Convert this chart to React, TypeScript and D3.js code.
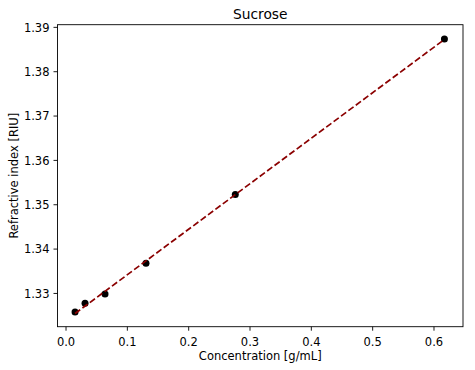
import React from "react";
import * as d3 from "d3";

const concentrations = [0.0147, 0.031, 0.0636, 0.1304, 0.276, 0.617];
const refractiveIndex = [1.3258, 1.3278, 1.3299, 1.3368, 1.3523, 1.3874];
const xTicks = [0.0, 0.1, 0.2, 0.3, 0.4, 0.5, 0.6];
const yTicks = [1.33, 1.34, 1.35, 1.36, 1.37, 1.38, 1.39];
const titleText = "Sucrose";
const xLabelText = "Concentration [g/mL]";
const yLabelText = "Refractive index [RIU]";

const W = 475;
const H = 370;
const left = 57.5;
const right = 463;
const top = 24.7;
const bottom = 326.7;
const font = "DejaVu Sans, sans-serif";

export default function App() {
  const x = d3.scaleLinear().domain([-0.0139, 0.6473]).range([left, right]);
  const y = d3.scaleLinear().domain([1.3225, 1.3906]).range([bottom, top]);

  const n = concentrations.length;
  const mx = d3.mean(concentrations) as number;
  const my = d3.mean(refractiveIndex) as number;
  let sxy = 0,
    sxx = 0;
  for (let i = 0; i < n; i++) {
    sxy += (concentrations[i] - mx) * (refractiveIndex[i] - my);
    sxx += (concentrations[i] - mx) ** 2;
  }
  const slope = sxy / sxx;
  const intercept = my - slope * mx;
  const x0 = d3.min(concentrations) as number;
  const x1 = d3.max(concentrations) as number;
  const fitPts: [number, number][] = [
    [x0, intercept + slope * x0],
    [x1, intercept + slope * x1],
  ];
  const line = d3
    .line<[number, number]>()
    .x((d) => x(d[0]))
    .y((d) => y(d[1]));

  return (
    <svg
      width={W}
      height={H}
      style={{ position: "absolute", left: 0, top: 0, background: "#fff" }}
      fontFamily={font}
    >
      <rect x={0} y={0} width={W} height={H} fill="#fff" />
      {concentrations.map((c, i) => (
        <circle key={i} cx={x(c)} cy={y(refractiveIndex[i])} r={3.5} fill="#000" />
      ))}
      <path
        d={line(fitPts) || ""}
        fill="none"
        stroke="#8b0000"
        strokeWidth={1.7}
        strokeDasharray="6.4,2.8"
      />
      <rect
        x={left}
        y={top}
        width={right - left}
        height={bottom - top}
        fill="none"
        stroke="#000"
        strokeWidth={0.9}
      />
      {xTicks.map((t) => (
        <g key={"x" + t}>
          <line x1={x(t)} x2={x(t)} y1={bottom} y2={bottom + 4} stroke="#000" strokeWidth={0.9} />
          <text x={x(t)} y={bottom + 18.8} textAnchor="middle" fontSize={11.5} fill="#000">
            {t.toFixed(1)}
          </text>
        </g>
      ))}
      {yTicks.map((t) => (
        <g key={"y" + t}>
          <line x1={left - 4} x2={left} y1={y(t)} y2={y(t)} stroke="#000" strokeWidth={0.9} />
          <text x={left - 8} y={y(t)} dy="0.36em" textAnchor="end" fontSize={11.5} fill="#000">
            {t.toFixed(2)}
          </text>
        </g>
      ))}
      <text x={(left + right) / 2} y={18.7} textAnchor="middle" fontSize={13.8} fill="#000">
        {titleText}
      </text>
      <text x={(left + right) / 2} y={359.5} textAnchor="middle" fontSize={11.5} fill="#000">
        {xLabelText}
      </text>
      <text
        transform={`translate(17.5, ${(top + bottom) / 2}) rotate(-90)`}
        textAnchor="middle"
        fontSize={11.5}
        fill="#000"
      >
        {yLabelText}
      </text>
    </svg>
  );
}
